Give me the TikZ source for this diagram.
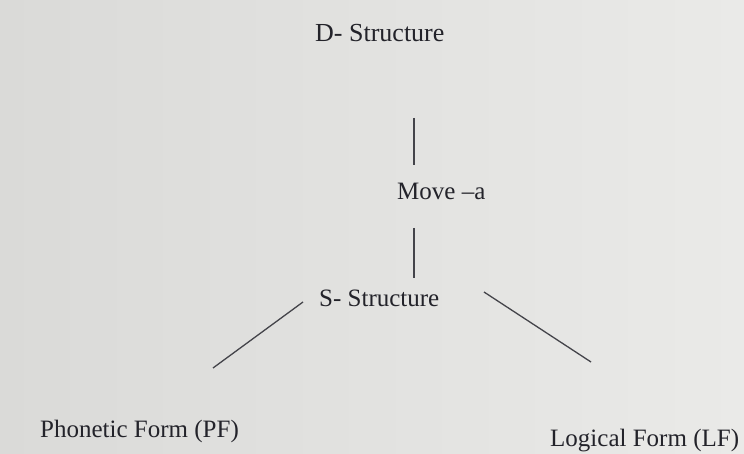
\documentclass[tikz,border=0pt]{standalone}
\usepackage{fontspec}
\setmainfont{Liberation Serif}
\definecolor{ink}{RGB}{35,35,42}
\definecolor{paperedge}{RGB}{218,218,216}
\definecolor{papermid}{RGB}{245,245,243}
\definecolor{paperright}{RGB}{234,234,232}
\tikzset{
  lbl/.style={text=ink,font=\fontsize{25}{30}\selectfont,inner sep=0pt,anchor=base west},
  stroke/.style={draw=ink!85,line width=1.3pt}
}
\begin{document}
\begin{tikzpicture}[x=1pt,y=-1pt]
  \shade[left color=paperedge,middle color=papermid,right color=paperright] (0,0) rectangle (744,454);
  % levels
  \node[lbl,font=\fontsize{26}{30}\selectfont] (dstr) at (315,42) {D- Structure};
  \node[lbl] (move) at (397,200) {Move --a};
  \node[lbl] (sstr) at (319,306) {S- Structure};
  \node[lbl] (pf) at (40,437) {Phonetic Form (PF)};
  \node[lbl] (lf) at (550,446) {Logical Form (LF)};
  % line ends
  \coordinate (d1) at (414,118);
  \coordinate (d2) at (414,165);
  \coordinate (m1) at (414,228);
  \coordinate (m2) at (414,278);
  \coordinate (l1) at (303,302);
  \coordinate (l2) at (213,368);
  \coordinate (r1) at (484,292);
  \coordinate (r2) at (591,362);
  \draw[stroke] (d1) -- (d2);
  \draw[stroke] (m1) -- (m2);
  \draw[stroke] (l1) -- (l2);
  \draw[stroke] (r1) -- (r2);
\end{tikzpicture}
\end{document}
